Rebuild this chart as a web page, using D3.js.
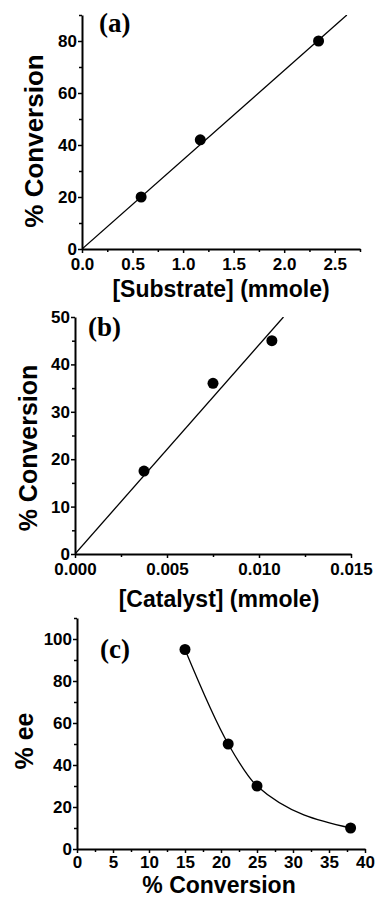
<!DOCTYPE html>
<html>
<head>
<meta charset="utf-8">
<script src="https://cdn.jsdelivr.net/npm/d3@7"></script>
<style>
  html, body { margin: 0; padding: 0; background: #fff; }
  svg { display: block; }
  .tick text { font-family: "Liberation Sans", Arial, sans-serif; font-weight: bold; }
</style>
</head>
<body>
<svg id="chart" width="378" height="898"></svg>
<script>
// ---- Data ----
// Panel (a)
const substrate = [0.585, 1.17, 2.34];
const conversionA = [20, 42, 80];
const fitAX = [0, 2.62];
const fitAY = [0, 90];
const ticksAX = [0, 0.5, 1.0, 1.5, 2.0, 2.5];
const ticksAY = [0, 20, 40, 60, 80];

// Panel (b)
const catalyst = [0.00375, 0.0075, 0.0107];
const conversionB = [17.5, 36, 45];
const fitBX = [0, 0.01133];
const fitBY = [0, 50];
const ticksBX = [0, 0.005, 0.010, 0.015];
const ticksBY = [0, 10, 20, 30, 40, 50];

// Panel (c)
const conversionC = [15, 21, 25, 38];
const ee = [95, 50, 30, 10];
const ticksCX = [0, 5, 10, 15, 20, 25, 30, 35, 40];
const ticksCY = [0, 20, 40, 60, 80, 100];

const svg = d3.select("#chart");

function panel(cfg) {
  const g = svg.append("g");
  const x = d3.scaleLinear().domain(cfg.xDomain).range([cfg.left, cfg.right]);
  const y = d3.scaleLinear().domain(cfg.yDomain).range([cfg.bottom, cfg.top]);

  // minor ticks
  const xAxisMinor = d3.axisBottom(x).tickValues(cfg.xMinor).tickSize(3).tickFormat("");
  const yAxisMinor = d3.axisLeft(y).tickValues(cfg.yMinor).tickSize(3).tickFormat("");
  const gxm = g.append("g").attr("transform", `translate(0,${cfg.bottom})`).call(xAxisMinor);
  const gym = g.append("g").attr("transform", `translate(${cfg.left},0)`).call(yAxisMinor);
  [gxm, gym].forEach(a => { a.select(".domain").remove(); a.selectAll("line").attr("stroke", "#000").attr("stroke-width", 1.5); });

  const xAxis = d3.axisBottom(x).tickValues(cfg.xTicks).tickSize(4).tickPadding(cfg.xPad).tickSizeOuter(0).tickFormat(cfg.xFormat);
  const yAxis = d3.axisLeft(y).tickValues(cfg.yTicks).tickSize(4).tickPadding(1).tickSizeOuter(0).tickFormat(d3.format("d"));
  const gx = g.append("g").attr("transform", `translate(0,${cfg.bottom})`).call(xAxis);
  const gy = g.append("g").attr("transform", `translate(${cfg.left},0)`).call(yAxis);
  [gx, gy].forEach(a => {
    a.select(".domain").attr("stroke", "#000").attr("stroke-width", 2);
    a.selectAll("line").attr("stroke", "#000").attr("stroke-width", 1.5);
    a.selectAll("text").attr("font-size", 17).attr("fill", "#000");
  });

  // clip
  const cid = "clip" + cfg.id;
  svg.append("clipPath").attr("id", cid).append("rect")
    .attr("x", cfg.left).attr("y", cfg.top).attr("width", cfg.right - cfg.left).attr("height", cfg.bottom - cfg.top);

  // fit line / curve
  const line = d3.line().x(d => x(d[0])).y(d => y(d[1]));
  if (cfg.curve) line.curve(cfg.curve);
  g.append("path").datum(cfg.fit).attr("d", line).attr("fill", "none")
    .attr("stroke", "#000").attr("stroke-width", 1.3).attr("clip-path", `url(#${cid})`);

  // points
  g.selectAll("circle.pt").data(cfg.points).join("circle").attr("class", "pt")
    .attr("cx", d => x(d[0])).attr("cy", d => y(d[1])).attr("r", 5.5).attr("fill", "#000");

  // axis titles
  g.append("text").attr("x", cfg.xTitleX).attr("y", cfg.xTitleY).attr("text-anchor", "middle")
    .attr("font-family", "Liberation Sans, Arial, sans-serif").attr("font-weight", "bold").attr("font-size", 23)
    .text(cfg.xTitle);
  g.append("text").attr("transform", `translate(${cfg.yTitleX},${cfg.yTitleY}) rotate(-90)`).attr("text-anchor", "middle")
    .attr("font-family", "Liberation Sans, Arial, sans-serif").attr("font-weight", "bold").attr("font-size", cfg.yTitleSize)
    .text(cfg.yTitle);
  // panel label
  g.append("text").attr("x", cfg.labelX).attr("y", cfg.labelY)
    .attr("font-family", "Liberation Serif, Times New Roman, serif").attr("font-weight", "bold").attr("font-size", 27)
    .text(cfg.label);
}

panel({
  id: "a", left: 82, right: 360, top: 15, bottom: 249,
  xDomain: [0, 2.75], yDomain: [0, 90],
  xTicks: ticksAX, yTicks: ticksAY, xPad: 5,
  xMinor: d3.range(0.25, 2.76, 0.5), yMinor: d3.range(10, 91, 20),
  xFormat: d3.format(".1f"),
  points: substrate.map((v, i) => [v, conversionA[i]]),
  fit: fitAX.map((v, i) => [v, fitAY[i]]),
  xTitle: "[Substrate] (mmole)", xTitleX: 221, xTitleY: 297,
  yTitle: "% Conversion", yTitleX: 43, yTitleY: 141, yTitleSize: 26,
  label: "(a)", labelX: 99, labelY: 32
});

panel({
  id: "b", left: 75, right: 351, top: 317, bottom: 554,
  xDomain: [0, 0.015], yDomain: [0, 50],
  xTicks: ticksBX, yTicks: ticksBY, xPad: 5,
  xMinor: [0.0025, 0.0075, 0.0125], yMinor: d3.range(5, 50, 10),
  xFormat: d3.format(".3f"),
  points: catalyst.map((v, i) => [v, conversionB[i]]),
  fit: fitBX.map((v, i) => [v, fitBY[i]]),
  xTitle: "[Catalyst] (mmole)", xTitleX: 219, xTitleY: 607,
  yTitle: "% Conversion", yTitleX: 37, yTitleY: 448, yTitleSize: 25,
  label: "(b)", labelX: 88, labelY: 336
});

panel({
  id: "c", left: 77, right: 365, top: 618, bottom: 849,
  xDomain: [0, 40], yDomain: [0, 110],
  xTicks: ticksCX, yTicks: ticksCY, xPad: 3,
  xMinor: d3.range(2.5, 40, 5), yMinor: d3.range(10, 111, 20),
  xFormat: d3.format("d"),
  points: conversionC.map((v, i) => [v, ee[i]]),
  fit: conversionC.map((v, i) => [v, ee[i]]),
  curve: d3.curveMonotoneX,
  xTitle: "% Conversion", xTitleX: 219, xTitleY: 893,
  yTitle: "% ee", yTitleX: 33, yTitleY: 741, yTitleSize: 25,
  label: "(c)", labelX: 100, labelY: 658
});
</script>
</body>
</html>
